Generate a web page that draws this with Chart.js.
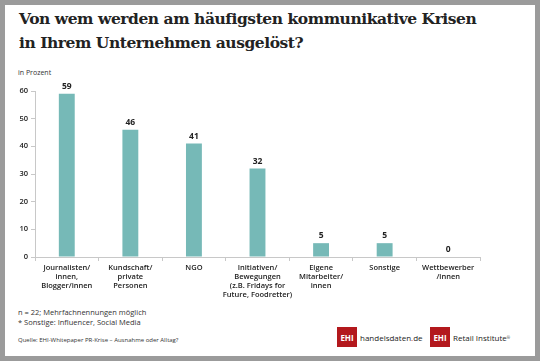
<!DOCTYPE html>
<html>
<head>
<meta charset="utf-8">
<script src="https://cdn.jsdelivr.net/npm/chart.js@4"></script>
<style>
  html, body { margin: 0; padding: 0; }
  body { width: 540px; height: 361px; background: #9b9b9b; position: relative; overflow: hidden; font-family: "Open Sans", sans-serif; }
  #panel { position: absolute; left: 5px; top: 5px; width: 530px; height: 351px; background: #fff; }
  #title { position: absolute; left: 19px; top: 7px; font-family: "DejaVu Serif", serif; font-weight: bold; font-size: 15.5px; line-height: 24px; color: #222; letter-spacing: -0.45px; }
  #unit { position: absolute; left: 18px; top: 68px; font-size: 7px; color: #333; }
  .note { position: absolute; left: 18px; font-size: 7.5px; color: #333; }
  .logo { position: absolute; top: 327px; height: 20px; display: flex; align-items: center; font-size: 8px; color: #222; }
  .box { width: 20px; height: 20px; background: #b3181d; color: #fff; font-weight: bold; font-size: 8px; display: flex; align-items: center; justify-content: center; margin-right: 3px; }
  canvas { position: absolute; left: 0; top: 0; }
</style>
</head>
<body>
<div id="panel"></div>
<div id="title">Von wem werden am häufigsten kommunikative Krisen<br>in Ihrem Unternehmen ausgelöst?</div>
<div id="unit">in Prozent</div>
<div class="note" style="top:307px">n = 22; Mehrfachnennungen möglich</div>
<div class="note" style="top:317px">* Sonstige: Influencer, Social Media</div>
<div class="note" style="top:336px;font-size:6px">Quelle: EHI-Whitepaper PR-Krise – Ausnahme oder Alltag?</div>
<div class="logo" style="left:337px"><div class="box">EHI</div>handelsdaten<span style="color:#b3181d">.</span>de</div>
<div class="logo" style="left:430px"><div class="box">EHI</div>Retail Institute<sup style="font-size:4px">®</sup></div>
<canvas id="c" width="540" height="361"></canvas>
<script>
const categories = [
  ['Journalisten/', 'innen,', 'Blogger/innen'],
  ['Kundschaft/', 'private', 'Personen'],
  ['NGO'],
  ['Initiativen/', 'Bewegungen', '(z.B. Fridays for', 'Future, Foodretter)'],
  ['Eigene', 'Mitarbeiter/', 'innen'],
  ['Sonstige'],
  ['Wettbewerber', '/innen']
];
const values = [59, 46, 41, 32, 5, 5, 0];
const yTicks = [0, 10, 20, 30, 40, 50, 60];

const barColor = '#76b9b7';
const textColor = '#222';
const axisColor = '#c8c8c8';

const valueLabels = {
  id: 'valueLabels',
  afterDatasetsDraw(chart) {
    const ctx = chart.ctx;
    const meta = chart.getDatasetMeta(0);
    ctx.save();
    ctx.font = 'bold 8.5px "Open Sans", sans-serif';
    ctx.fillStyle = textColor;
    ctx.textAlign = 'center';
    ctx.textBaseline = 'bottom';
    meta.data.forEach((bar, i) => {
      ctx.fillText(values[i], bar.x, bar.y - 3);
    });
    ctx.restore();
  }
};

new Chart(document.getElementById('c'), {
  type: 'bar',
  data: {
    labels: categories,
    datasets: [{
      data: values,
      backgroundColor: barColor,
      barPercentage: 0.5,
      categoryPercentage: 0.5
    }]
  },
  options: {
    responsive: false,
    animation: false,
    devicePixelRatio: 1,
    layout: { padding: { top: 91, left: 14, right: 60, bottom: 56 } },
    plugins: { legend: { display: false }, tooltip: { enabled: false } },
    scales: {
      x: {
        afterFit(scale) { scale.height = 48; },
        border: { color: axisColor },
        grid: { drawOnChartArea: false, tickLength: 4, color: axisColor, offset: true },
        ticks: {
          color: textColor,
          font: { family: '"Open Sans", sans-serif', size: 7.5, weight: '600', lineHeight: 1.2 },
          maxRotation: 0,
          autoSkip: false,
          padding: 2
        }
      },
      y: {
        min: 0,
        max: 60,
        afterFit(scale) { scale.width = 21; },
        afterBuildTicks(scale) { scale.ticks = yTicks.map(v => ({ value: v })); },
        border: { color: axisColor },
        grid: { drawOnChartArea: false, tickLength: 4, color: axisColor },
        ticks: {
          color: textColor,
          font: { family: '"Open Sans", sans-serif', size: 7.5, weight: '600' },
          padding: 3
        }
      }
    }
  },
  plugins: [valueLabels]
});
</script>
</body>
</html>
